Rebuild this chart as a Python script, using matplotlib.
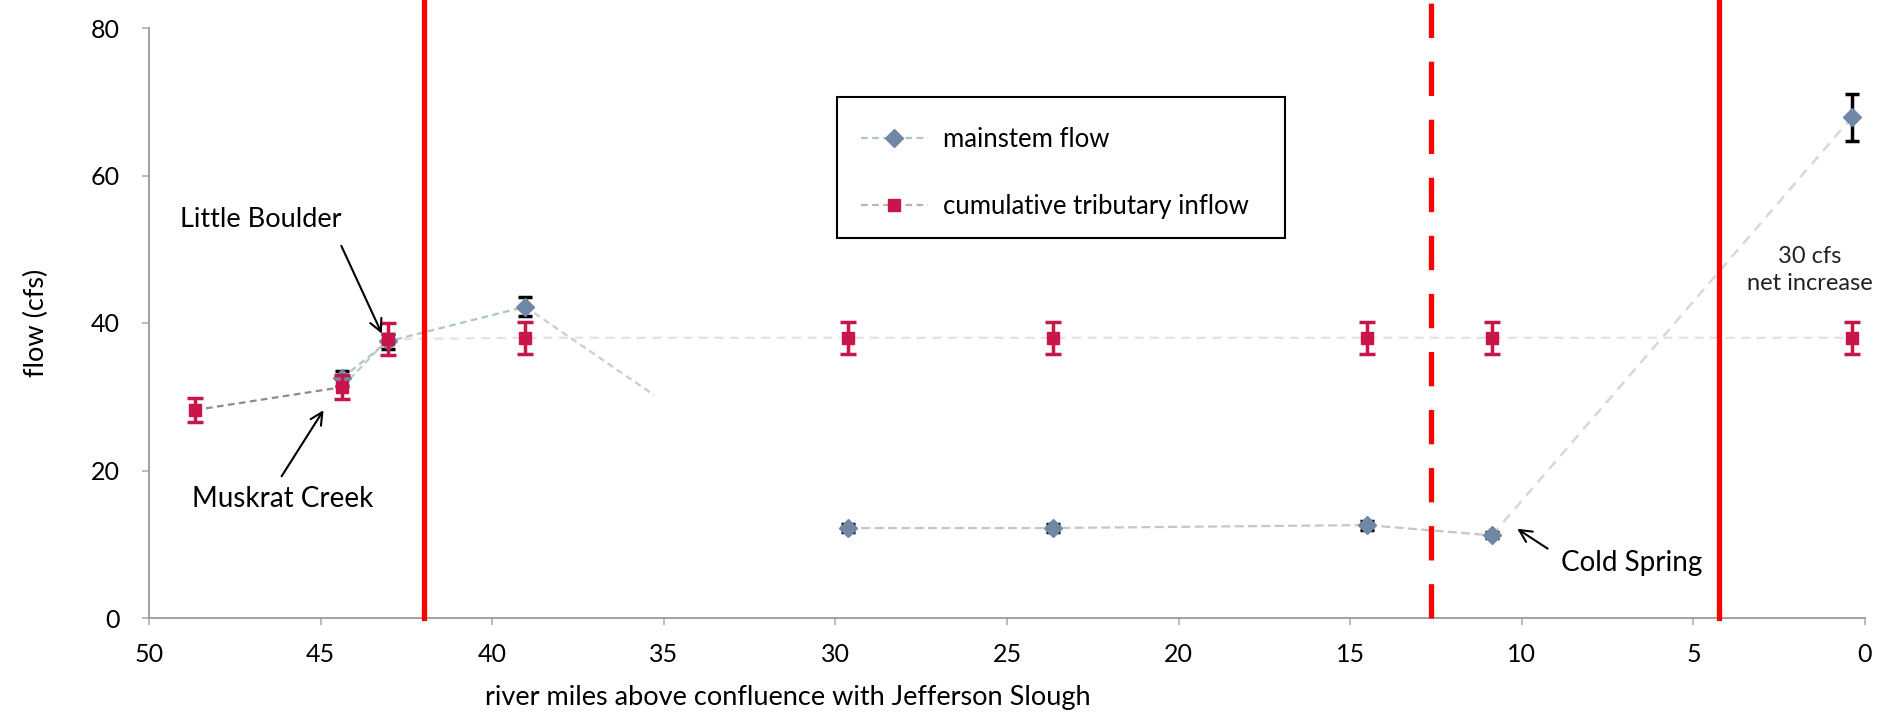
import matplotlib
matplotlib.use("Agg")
import matplotlib.pyplot as plt
from matplotlib.lines import Line2D
from matplotlib.patches import Rectangle

plt.rcParams['font.family'] = ['Lato', 'DejaVu Sans']

# ---- data ----
trib_miles = [48.66, 44.38, 43.04, 39.04, 29.63, 23.66, 14.51, 10.87, 0.38]
trib_flow = [28.2, 31.3, 37.8, 38.0, 38.0, 38.0, 38.0, 38.0, 38.0]
trib_err = [1.6, 1.6, 2.2, 2.2, 2.2, 2.2, 2.2, 2.2, 2.2]

main_miles = [44.38, 43.04, 39.04, 29.63, 23.66, 14.51, 10.87, 0.38]
main_flow = [32.5, 37.5, 42.2, 12.2, 12.2, 12.6, 11.2, 67.9]
main_err = [1.0, 1.0, 1.3, 0.6, 0.5, 0.6, 0.4, 3.2]

boundaries_solid = [42.0, 4.25]
boundaries_dashed = [12.65]

x_ticks = [50, 45, 40, 35, 30, 25, 20, 15, 10, 5, 0]
y_ticks = [0, 20, 40, 60, 80]

legend_labels = ["mainstem flow", "cumulative tributary inflow"]

TRIB_C = '#C8154A'
MAIN_C = '#7088A6'

fig = plt.figure(figsize=(19.02, 7.18), dpi=100)
ax = fig.add_axes([149/1902, 1 - 618/718, (1865-149)/1902, (618-28)/718])
ax.set_xlim(50, 0)
ax.set_ylim(0, 80)

# ---- connecting lines ----
ax.plot(trib_miles[:2], trib_flow[:2], ls=(0, (3, 2)), color='#8c8c8c', lw=1.6, zorder=2)
ax.plot(trib_miles[1:3], trib_flow[1:3], ls=(0, (3, 2)), color='#b7cfcc', lw=1.6, zorder=2)
ax.plot(trib_miles[2:], trib_flow[2:], ls=(0, (4, 3)), color='#e8dfe1', lw=1.6, zorder=2)

ax.plot(main_miles[:3], main_flow[:3], ls=(0, (3, 2)), color='#b0c6c6', lw=1.6, zorder=2)
frac = 0.4
px = [main_miles[2], main_miles[2] + frac * (main_miles[3] - main_miles[2])]
py = [main_flow[2], main_flow[2] + frac * (main_flow[3] - main_flow[2])]
ax.plot(px, py, ls=(0, (3, 2)), color='#cccccc', lw=1.6, zorder=2)
ax.plot(main_miles[3:7], main_flow[3:7], ls=(0, (4, 2)), color='#c6c6c6', lw=1.6, zorder=2)
ax.plot(main_miles[6:], main_flow[6:], ls=(0, (4, 3)), color='#d8d8d8', lw=1.8, zorder=2)

# ---- error bars and markers ----
ax.errorbar(main_miles, main_flow, yerr=main_err, fmt='D', color=MAIN_C, ms=9,
            ecolor='black', elinewidth=2.5, capsize=5, capthick=2.5, zorder=4)
ax.errorbar(trib_miles, trib_flow, yerr=trib_err, fmt='s', color=TRIB_C, ms=9,
            ecolor=TRIB_C, elinewidth=2.5, capsize=5.5, capthick=2.5, zorder=5)

# ---- boundary lines ----
for b in boundaries_solid:
    ax.axvline(b, ymin=0, ymax=618/590, color='#FF0000', lw=3.8, clip_on=False, zorder=6)
for b in boundaries_dashed:
    ax.axvline(b, ymin=0, ymax=618/590, color='#FF0000', lw=3.8, clip_on=False,
               ls=(0, (6.5, 4.5)), zorder=6)

# ---- annotations ----
arrow = dict(arrowstyle='->', color='black', lw=1.5, mutation_scale=22)
ax.annotate('', xy=(43.18, 38.2), xytext=(44.43, 50.8), arrowprops=arrow, zorder=7)
ax.text(46.74, 54.0, 'Little Boulder', fontsize=19.5, ha='center', va='center')
ax.annotate('', xy=(44.87, 28.5), xytext=(46.18, 18.9), arrowprops=arrow, zorder=7)
ax.text(46.1, 16.2, 'Muskrat Creek', fontsize=20, ha='center', va='center')
ax.annotate('', xy=(10.2, 12.3), xytext=(9.18, 9.2), arrowprops=arrow, zorder=7)
ax.text(6.8, 7.4, 'Cold Spring', fontsize=20, ha='center', va='center')
ax.text(1.6, 47.2, '30 cfs\nnet increase', fontsize=17, ha='center', va='center',
        color='#222222', linespacing=1.35)

# ---- axes styling ----
for s in ['top', 'right']:
    ax.spines[s].set_visible(False)
for s in ['left', 'bottom']:
    ax.spines[s].set_color('#9a9a9a')
    ax.spines[s].set_linewidth(1.3)
ax.set_xticks(x_ticks)
ax.set_yticks(y_ticks)
ax.set_xticklabels([str(t) for t in x_ticks])
ax.set_yticklabels([str(t) for t in y_ticks])
ax.tick_params(axis='x', direction='out', length=5, width=1.2, color='#b0b0b0',
               labelsize=18, pad=13)
ax.tick_params(axis='y', direction='out', length=5, width=1.2, color='#b0b0b0',
               labelsize=18, pad=16)
ax.set_xlabel('river miles above confluence with Jefferson Slough', fontsize=19.5)
ax.xaxis.set_label_coords(0.372, -0.113)
ax.set_ylabel('flow (cfs)', fontsize=19.5, labelpad=30)

# ---- legend ----
h_main = Line2D([], [], ls=(0, (3, 2)), color='#b0c6c6', lw=1.6, marker='D',
                mfc=MAIN_C, mec=MAIN_C, ms=9)
h_trib = Line2D([], [], ls=(0, (3, 2)), color='#c0b0b4', lw=1.6, marker='s',
                mfc=TRIB_C, mec=TRIB_C, ms=9)
leg = fig.legend([h_main, h_trib], legend_labels, loc='upper left',
                 bbox_to_anchor=(848/1902, 1 - 114/718), frameon=False, fontsize=18.5,
                 handlelength=2.6, handletextpad=0.6, labelspacing=1.65, borderpad=0)
fig.add_artist(Rectangle((837/1902, 1 - 238/718), (1285-837)/1902, (238-97)/718,
                         transform=fig.transFigure, fill=False, ec='black', lw=1.5))

fig.savefig('out.png', dpi=100)
